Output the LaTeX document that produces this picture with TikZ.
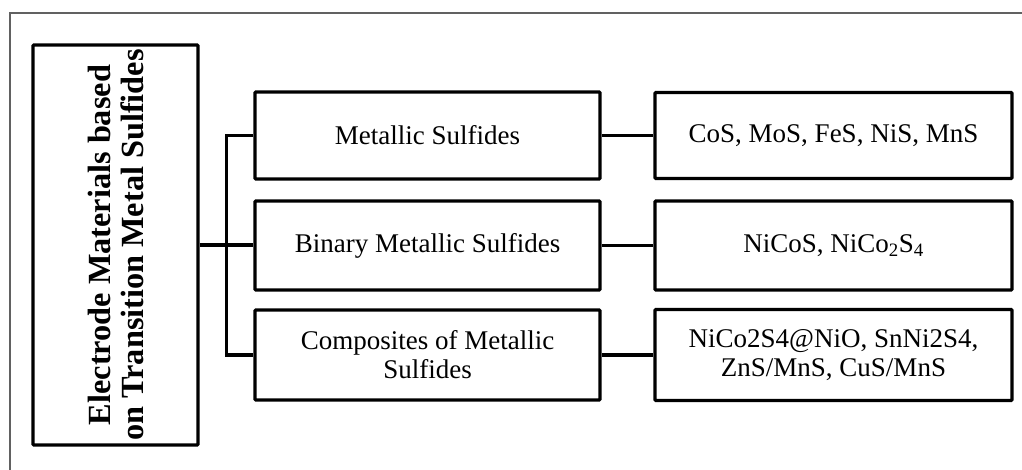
\documentclass[tikz,border=0pt]{standalone}
\usepackage{fontspec}
\setmainfont{Liberation Serif}
\begin{document}
\begin{tikzpicture}[x=1pt,y=-1pt,
  box/.style={draw=black, line width=3.2pt, rounded corners=1pt, align=center, inner sep=0pt,
    font=\fontsize{27}{29}\selectfont},
  midbox/.style={box, minimum width=345pt},
  rightbox/.style={box, minimum width=357pt},
  mainbox/.style={draw=black, line width=3.2pt, rounded corners=1pt, align=center, inner sep=0pt,
    rotate=90, minimum width=400pt, minimum height=165pt,
    font=\bfseries\fontsize{32.3}{33}\selectfont},
  conn/.style={draw=black, line width=3.2pt},
  frame/.style={draw=black!62, line width=1.5pt}]
\useasboundingbox (0,0) rectangle (1022,470);
\draw[frame] (10,471) -- (10,13) -- (1023,13);

\node[mainbox] (main) at (115.5,245) {Electrode Materials based\\on Transition Metal Sulfides};

\node[midbox, minimum height=87pt] (b1) at (427.5,135.5) {Metallic Sulfides};
\node[midbox, minimum height=89pt] (b2) at (427.5,245.5) {Binary Metallic Sulfides};
\node[midbox, minimum height=90pt] (b3) at (427.5,355) {Composites of Metallic\\Sulfides};

\node[rightbox, minimum height=86pt] (r1) at (833.5,135.5) {CoS, MoS, FeS, NiS, MnS};
\node[rightbox, minimum height=89pt] (r2) at (833.5,245.5) {NiCoS, NiCo\textsubscript{2}S\textsubscript{4}};
\node[rightbox, minimum height=91pt] (r3) at (833.5,355) {NiCo2S4@NiO, SnNi2S4,\\ZnS/MnS, CuS/MnS};

\draw[conn] (main.south) -- (main.south -| b2.west);
\draw[conn] (b1.west) -- ++(-27pt,0) |- (b3.west);
\draw[conn] (b1.east) -- (b1.east -| r1.west);
\draw[conn] (b2.east) -- (b2.east -| r2.west);
\draw[conn] (b3.east) -- (b3.east -| r3.west);
\end{tikzpicture}
\end{document}
